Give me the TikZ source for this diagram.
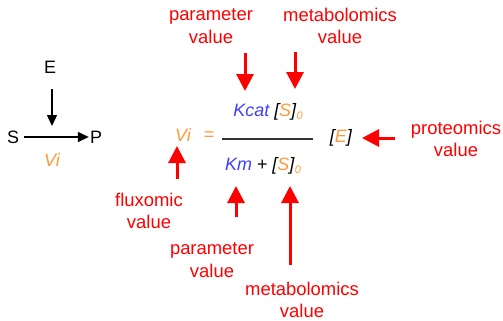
\documentclass[tikz,border=0pt]{standalone}
\usepackage{fontspec}
\setmainfont{Liberation Sans}
\usetikzlibrary{arrows.meta}
\definecolor{vorange}{HTML}{FF9A3C}
\definecolor{vblue}{HTML}{3F3FFF}
\definecolor{vred}{HTML}{FF0000}
\definecolor{vline}{HTML}{333333}
\newcommand{\myzero}{\raisebox{-0.35ex}{\fontsize{11}{11}\selectfont\textit{\textcolor{vorange}{0}}}}
\begin{document}
\begin{tikzpicture}[x=1bp,y=-1bp,
  every node/.style={font=\fontsize{18}{22.5}\selectfont, inner sep=0pt},
  lab/.style={text=vred, align=center, font=\fontsize{18.5}{22.5}\selectfont},
  redarrow/.style={draw=vred, line width=3bp, -{Triangle[length=17bp,width=17bp]}},
  blackarrow/.style={draw=black, line width=1.4bp, -{Triangle[length=11bp,width=10bp]}},
  fracline/.style={draw=vline, line width=2bp}]
\useasboundingbox (0,0) rectangle (503,320);
% reaction
\node (E) at (50,67) {E};
\node (S) at (13,137) {S};
\node (P) at (96,137) {P};
\node (vi1) at (52,160) {\textit{\textcolor{vorange}{Vi}}};
\coordinate (et) at (52,89);
\coordinate (eh) at (52,126);
\draw[blackarrow] (et) -- (eh);
\draw[blackarrow, shorten <=5bp, shorten >=1bp] (S) -- (P);
% equation
\node (vi2) at (183,135) {\textit{\textcolor{vorange}{Vi}}};
\node (eq) at (209,136) {\textcolor{vorange}{=}};
\coordinate (fl) at (222,139);
\coordinate (fr) at (313,139);
\draw[fracline] (fl) -- (fr);
\node (num) at (268,112) {\textit{\textcolor{vblue}{Kcat} [\textcolor{vorange}{S}]}\myzero};
\node (den) at (263,166) {\textit{\textcolor{vblue}{Km}} + \textit{[\textcolor{vorange}{S}]}\myzero};
\node (enz) at (341,138) {\textit{[\textcolor{vorange}{E}]}};
% labels
\node[lab] (ptop) at (211,26) {parameter\\value};
\node[lab] (mtop) at (340,26) {metabolomics\\value};
\node[lab] (prot) at (456,139) {proteomics\\value};
\node[lab] (flux) at (149,211) {fluxomic\\value};
\node[lab] (pbot) at (212,260) {parameter\\value};
\node[lab] (mbot) at (302,300) {metabolomics\\value};
% red arrows
\coordinate (a1t) at (245,53); \coordinate (a1h) at (245,91);
\coordinate (a2t) at (295,52); \coordinate (a2h) at (295,89);
\coordinate (a3t) at (395,138); \coordinate (a3h) at (362,138);
\coordinate (a4t) at (177,179); \coordinate (a4h) at (177,146);
\coordinate (a5t) at (236,217); \coordinate (a5h) at (236,186);
\coordinate (a6t) at (290,265); \coordinate (a6h) at (290,186);
\draw[redarrow] (a1t) -- (a1h);
\draw[redarrow] (a2t) -- (a2h);
\draw[redarrow] (a3t) -- (a3h);
\draw[redarrow] (a4t) -- (a4h);
\draw[redarrow] (a5t) -- (a5h);
\draw[redarrow] (a6t) -- (a6h);
\end{tikzpicture}
\end{document}
